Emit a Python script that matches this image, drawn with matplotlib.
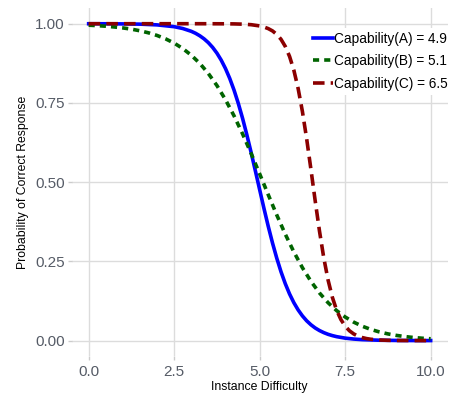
import numpy as np
import matplotlib.pyplot as plt

plt.rcParams['font.family'] = ['Liberation Sans', 'DejaVu Sans']

# difficulty grids and probabilities
difficulty = [0.0, 0.25, 0.5, 0.75, 1.0, 1.25, 1.5, 1.75, 2.0, 2.25,
              2.5, 2.75, 3.0, 3.25, 3.5, 3.75, 4.0, 4.25, 4.5, 4.75,
              5.0, 5.25, 5.5, 5.75, 6.0, 6.25, 6.5, 6.75, 7.0, 7.25,
              7.5, 7.75, 8.0, 8.25, 8.5, 8.75, 9.0, 9.25, 9.5, 9.75, 10.0]

difficulty_a = [0.0, 0.5, 1.0, 1.5, 2.0, 2.5, 2.75, 3.0, 3.125, 3.25, 3.375, 3.5, 3.625,
                3.75, 3.875, 4.0, 4.125, 4.25, 4.375, 4.5, 4.625, 4.75, 4.875, 5.0,
                5.125, 5.25, 5.375, 5.5, 5.625, 5.75, 5.875, 6.0, 6.125, 6.25, 6.375,
                6.5, 6.625, 6.75, 6.875, 7.0, 7.125, 7.25, 7.5, 7.75, 8.0, 8.5, 9.0,
                9.5, 10.0]
prob_a = [0.9999, 0.9998, 0.9994, 0.9986, 0.9963, 0.9906, 0.9849, 0.9760, 0.9698, 0.9619,
          0.9522, 0.9402, 0.9253, 0.9072, 0.8852, 0.8587, 0.8274, 0.7908, 0.7488, 0.7016,
          0.6496, 0.5939, 0.5356, 0.4763, 0.4176, 0.3612, 0.3084, 0.2602, 0.2171, 0.1795,
          0.1471, 0.1197, 0.0969, 0.0780, 0.0625, 0.0500, 0.0398, 0.0317, 0.0252, 0.0199,
          0.0158, 0.0125, 0.0078, 0.0049, 0.0030, 0.0012, 0.0005, 0.0002, 0.0001]

prob_b = [0.9953, 0.9939, 0.9921, 0.9897, 0.9867, 0.9828, 0.9777, 0.9712, 0.9629, 0.9522,
          0.9388, 0.9218, 0.9007, 0.8747, 0.8429, 0.8050, 0.7604, 0.7095, 0.6525, 0.5909,
          0.5262, 0.4607, 0.3965, 0.3357, 0.2799, 0.2301, 0.1870, 0.1503, 0.1197, 0.0947,
          0.0745, 0.0583, 0.0454, 0.0353, 0.0274, 0.0212, 0.0164, 0.0127, 0.0098, 0.0075, 0.0058]

difficulty_c = [0.0, 1.0, 2.0, 3.0, 3.5, 4.0, 4.25, 4.5, 4.75, 5.0, 5.125, 5.25, 5.375,
                5.5, 5.625, 5.75, 5.875, 6.0, 6.125, 6.25, 6.375, 6.5, 6.625, 6.75,
                6.875, 7.0, 7.125, 7.25, 7.375, 7.5, 7.625, 7.75, 7.875, 8.0, 8.125,
                8.25, 8.5, 8.75, 9.0, 9.5, 10.0]
prob_c = [1.0, 1.0, 1.0, 1.0, 0.9999, 0.9997, 0.9994, 0.9986, 0.9969, 0.9930, 0.9896,
          0.9846, 0.9773, 0.9664, 0.9507, 0.9282, 0.8966, 0.8532, 0.7957, 0.7231, 0.6365,
          0.5399, 0.4403, 0.3453, 0.2611, 0.1915, 0.1370, 0.0962, 0.0666, 0.0457, 0.0311,
          0.0211, 0.0142, 0.0096, 0.0064, 0.0043, 0.0019, 0.0009, 0.0004, 0.0001, 0.0]

labels = ["Capability(A) = 4.9", "Capability(B) = 5.1", "Capability(C) = 6.5"]
x_ticks = [0.0, 2.5, 5.0, 7.5, 10.0]
y_ticks = [0.0, 0.25, 0.5, 0.75, 1.0]

fig = plt.figure(figsize=(4.5, 3.93), dpi=100)
ax = fig.add_axes([0.159, 0.093, 0.836, 0.887])

lw = 2.6
ax.plot(difficulty_a, prob_a, color='#0000FF', lw=lw, label=labels[0])
ax.plot(difficulty, prob_b, color='#006400', lw=lw, dashes=(1.7, 1.4), label=labels[1])
ax.plot(difficulty_c, prob_c, color='#8B0000', lw=lw, dashes=(3.2, 1.7), label=labels[2])

ax.set_xlim(-0.5, 10.5)
ax.set_ylim(-0.05, 1.05)
ax.set_xticks(x_ticks)
ax.set_xticklabels(["%.1f" % v for v in x_ticks])
ax.set_yticks(y_ticks)
ax.set_yticklabels(["%.2f" % v for v in y_ticks])

ax.grid(True, color='#DCDCDC', lw=1.0)
ax.set_axisbelow(True)
for s in ax.spines.values():
    s.set_visible(False)
ax.tick_params(length=3, width=1, color='#CCCCCC', labelcolor='#555B66',
               labelsize=11, pad=2)
ax.tick_params(axis='x', pad=3)

ax.set_xlabel("Instance Difficulty", fontsize=8.8, labelpad=1.5)
ax.set_ylabel("Probability of Correct Response", fontsize=8.8, labelpad=4)

leg = ax.legend(loc='upper right', bbox_to_anchor=(1.028, 0.963), frameon=True,
                fontsize=9.8, handlelength=1.45, handletextpad=0.05,
                labelspacing=0.62, borderpad=0.3)
leg.get_frame().set_facecolor('white')
leg.get_frame().set_edgecolor('none')
leg.get_frame().set_alpha(1.0)

fig.savefig("out.png", dpi=100)
